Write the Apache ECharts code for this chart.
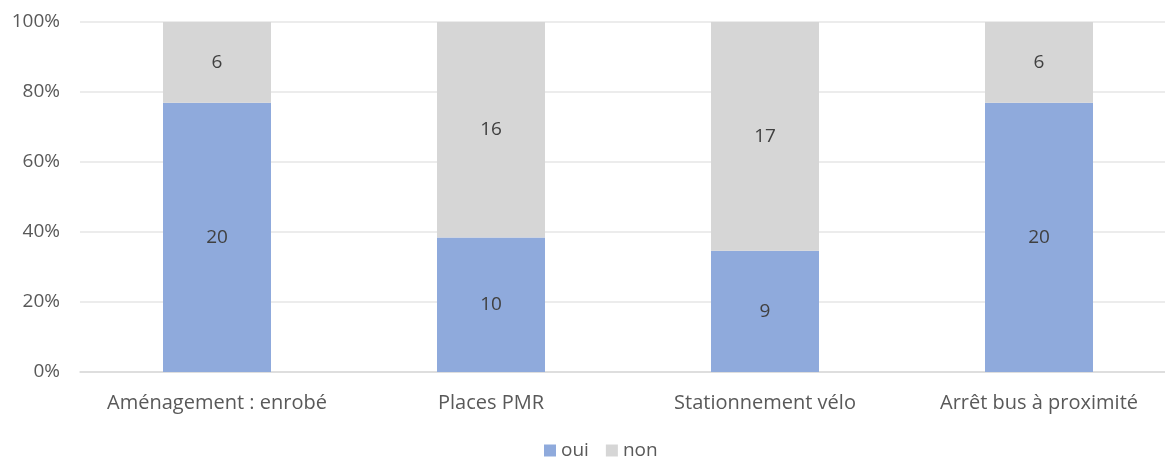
<!DOCTYPE html>
<html>
<head>
<meta charset="utf-8">
<script src="https://cdn.jsdelivr.net/npm/echarts@6/dist/echarts.min.js"></script>
<style>
  html, body { margin: 0; padding: 0; background: #fff; }
  #chart { width: 1165px; height: 459px; }
</style>
</head>
<body>
<div id="chart"></div>
<script>
// ---- data ----
var categories = ['Aménagement : enrobé', 'Places PMR', 'Stationnement vélo', 'Arrêt bus à proximité'];
var oui = [20, 10, 9, 20];
var non = [6, 16, 17, 6];
var yTicks = [0, 20, 40, 60, 80, 100];

var FONT = '"Open Sans", sans-serif';
var TXT = '#595959';

function pct(arr, i) {
  return arr[i] / (oui[i] + non[i]) * 100;
}

function makeSeries(name, arr, color) {
  return {
    name: name,
    type: 'bar',
    stack: 'total',
    barWidth: 108,
    itemStyle: { color: color },
    label: {
      show: true, position: 'inside', color: '#404040',
      fontFamily: FONT, fontSize: 19,
      formatter: function(p) { return arr[p.dataIndex]; }
    },
    emphasis: { disabled: true },
    data: arr.map(function(v, i) { return pct(arr, i); })
  };
}

var chart = echarts.init(document.getElementById('chart'));
chart.setOption({
  animation: false,
  textStyle: { fontFamily: FONT },
  grid: { left: 80, top: 22, width: 1096, height: 350, containLabel: false, outerBoundsMode: 'none' },
  legend: {
    top: 441, left: 544,
    padding: 0,
    itemWidth: 12, itemHeight: 12, itemGap: 17,
    icon: 'rect',
    textStyle: { color: TXT, fontSize: 19, fontFamily: FONT },
    data: ['oui', 'non']
  },
  xAxis: {
    type: 'category',
    data: categories,
    axisLine: { lineStyle: { color: '#d9d9d9', width: 1.5 } },
    axisTick: { show: false },
    axisLabel: { color: TXT, fontSize: 20, fontFamily: FONT, margin: 21, interval: 0 }
  },
  yAxis: {
    type: 'value',
    min: yTicks[0], max: yTicks[yTicks.length - 1], interval: 20,
    axisLine: { show: false },
    axisTick: { show: false },
    splitLine: { lineStyle: { color: '#e6e6e6', width: 1.5 } },
    axisLabel: {
      color: TXT, fontSize: 19, fontFamily: FONT, margin: 20,
      formatter: '{value}%'
    }
  },
  series: [
    makeSeries('oui', oui, '#8faadc'),
    makeSeries('non', non, '#d6d6d6')
  ]
});
</script>
</body>
</html>
